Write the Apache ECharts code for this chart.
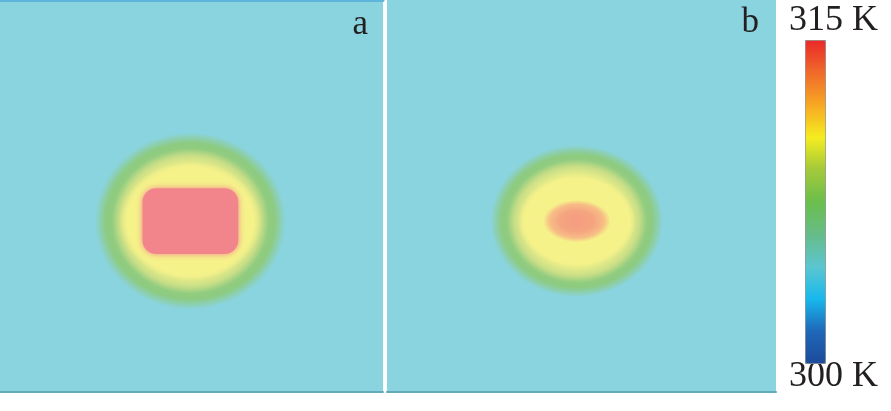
<!DOCTYPE html>
<html>
<head>
<meta charset="utf-8">
<script src="https://cdn.jsdelivr.net/npm/echarts@6/dist/echarts.min.js"></script>
<style>
html,body{margin:0;padding:0;background:#fff;}
#chart{width:891px;height:411px;}
</style>
</head>
<body>
<div id="chart"></div>
<script>
// ---------- data ----------
const panelLabels = ['a', 'b'];
const backgroundTemp = 304.5;           // K, uniform surface away from the hot spot
// hot-spot centre, panel units (0..100, origin bottom-left)
const spotCentreX = [49.7, 48.8];
const spotCentreY = [43.6, 43.6];
// outer extent of the warm halo (where it meets the background)
const spotRadiusX = [25.0, 22.2];
const spotRadiusY = [22.6, 19.4];
// radial temperature profile of the halo: fraction of outer radius -> K
const haloFractionA = [0, 0.60, 0.74, 0.82, 0.88, 0.94, 1.0];
const haloTempA     = [310.5, 310.5, 309.4, 308.1, 308.0, 306.4, 304.5];
const haloFractionB = [0, 0.56, 0.72, 0.81, 0.87, 0.94, 1.0];
const haloTempB     = [310.5, 310.5, 309.4, 308.1, 308.0, 306.4, 304.5];
// yellow plateau
const plateauHalfW = [18.6, 15.2];
const plateauHalfH = [15.0, 11.5];
const plateauTemp = [310.5, 310.5];
// hot core
const coreHalfW = [12.5, 8.7];
const coreHalfH = [8.4, 5.4];
const coreFraction = [0, 0.5, 0.8, 1.0];
const coreTempA = [315.0, 315.0, 315.0, 315.0];
const coreTempB = [313.6, 313.3, 312.4, 310.5];
// colour bar
const colorbarMin = 300;
const colorbarMax = 315;
const colorbarLabels = ['315 K', '300 K'];

// ---------- styles ----------
const barColors = ['#1D4A9A', '#1F68B8', '#18B8EC', '#5CC6D0', '#66BC88', '#6BBE4C',
                   '#A3C93A', '#F5EC20', '#F7A823', '#F06A2A', '#E92A2A'];
// displayed (washed) colours of the thermal field
const fieldTemps  = [304.5, 306.4, 308.0, 309.4, 310.5, 312.0, 313.6, 315.0];
const fieldColors = ['#8AD4E0', '#8CCFB0', '#8DCB80', '#C8DE86', '#F6F28A', '#F7C886', '#F59C80', '#F2858C'];
const coreShape = ['rounded', 'oval'];
const fontFamily = '"Liberation Serif", "Times New Roman", serif';

function fieldColor(t) {
  for (let i = 0; i < fieldTemps.length - 1; i++) {
    if (t <= fieldTemps[i + 1]) {
      const f = Math.max(0, (t - fieldTemps[i]) / (fieldTemps[i + 1] - fieldTemps[i]));
      return echarts.color.lerp(f, [fieldColors[i], fieldColors[i + 1]]);
    }
  }
  return fieldColors[fieldColors.length - 1];
}

const haloFraction = [haloFractionA, haloFractionB];
const haloTemp = [haloTempA, haloTempB];
const coreTemp = [coreTempA, coreTempB];

function stops(frac, temps) {
  return frac.map((f, i) => ({ offset: f, color: fieldColor(temps[i]) }));
}

function oval(p, s, fill) {
  return {
    type: 'circle',
    x: p[0], y: p[1], scaleX: s[0] / s[1], scaleY: 1,
    shape: { cx: 0, cy: 0, r: s[1] },
    style: { fill: fill }
  };
}

function makeRender(panel) {
  return function (params, api) {
    const p = api.coord([api.value(0), api.value(1)]);
    const s = api.size([api.value(2), api.value(3)]);
    const kind = api.value(5);
    if (kind === 0) {
      return oval(p, s, new echarts.graphic.RadialGradient(0.5, 0.5, 0.5, stops(haloFraction[panel], haloTemp[panel])));
    }
    if (kind === 1) {
      const c = fieldColor(plateauTemp[panel]);
      return oval(p, s, new echarts.graphic.RadialGradient(0.5, 0.5, 0.5, [
        { offset: 0, color: c }, { offset: 0.88, color: c },
        { offset: 1, color: echarts.color.modifyAlpha(c, 0) }
      ]));
    }
    if (coreShape[panel] === 'rounded') {
      const c = fieldColor(coreTemp[panel][0]);
      return {
        type: 'rect',
        shape: { x: p[0] - s[0], y: p[1] - s[1], width: 2 * s[0], height: 2 * s[1], r: Math.min(s[0], s[1]) * 0.42 },
        style: { fill: c, shadowBlur: 6, shadowColor: c }
      };
    }
    return oval(p, s, new echarts.graphic.RadialGradient(0.5, 0.5, 0.5, stops(coreFraction, coreTemp[panel])));
  };
}

const grids = [
  { left: 0, top: 0, width: 383, height: 392 },
  { left: 387, top: 0, width: 389, height: 392 }
];

const option = {
  animation: false,
  backgroundColor: '#ffffff',
  grid: grids.map(g => Object.assign({ show: true, backgroundColor: fieldColor(backgroundTemp), borderWidth: 0 }, g)),
  xAxis: [0, 1].map(i => ({
    gridIndex: i, type: 'value', min: 0, max: 100, position: 'bottom',
    axisLine: { show: true, onZero: false, lineStyle: { color: '#63AABA', width: 2 } },
    axisTick: { show: false }, axisLabel: { show: false }, splitLine: { show: false }
  })).concat([{
    gridIndex: 0, type: 'value', min: 0, max: 100, position: 'top',
    axisLine: { show: true, onZero: false, lineStyle: { color: '#5DB6DA', width: 3 } },
    axisTick: { show: false }, axisLabel: { show: false }, splitLine: { show: false }
  }]),
  yAxis: [0, 1].map(i => ({
    gridIndex: i, type: 'value', min: 0, max: 100, show: false
  })),
  visualMap: {
    type: 'continuous', min: colorbarMin, max: colorbarMax, orient: 'vertical',
    left: 805, top: 40, itemWidth: 20, itemHeight: 323, padding: 0,
    borderWidth: 1, borderColor: '#8a8a8a',
    calculable: false, text: null, showLabel: false, seriesIndex: [0, 1], dimension: 4,
    inRange: { color: barColors }
  },
  graphic: [
    { type: 'text', right: 891 - 368, top: 7, style: { text: panelLabels[0], font: '35px ' + fontFamily, fill: '#231F20' } },
    { type: 'text', right: 891 - 759, top: 5, style: { text: panelLabels[1], font: '35px ' + fontFamily, fill: '#231F20' } },
    { type: 'text', left: 789, top: 3, style: { text: colorbarLabels[0], font: '36px ' + fontFamily, fill: '#231F20' } },
    { type: 'text', left: 789, top: 359, style: { text: colorbarLabels[1], font: '36px ' + fontFamily, fill: '#231F20' } }
  ],
  series: [0, 1].map(i => ({
    type: 'custom',
    xAxisIndex: i, yAxisIndex: i,
    renderItem: makeRender(i),
    clip: true,
    silent: true,
    data: [
      [spotCentreX[i], spotCentreY[i], spotRadiusX[i], spotRadiusY[i], haloTemp[i][0], 0],
      [spotCentreX[i], spotCentreY[i], plateauHalfW[i], plateauHalfH[i], plateauTemp[i], 1],
      [spotCentreX[i], spotCentreY[i], coreHalfW[i], coreHalfH[i], coreTemp[i][0], 2]
    ]
  }))
};

const chart = echarts.init(document.getElementById('chart'), null, { renderer: 'canvas' });
chart.setOption(option);
</script>
</body>
</html>
